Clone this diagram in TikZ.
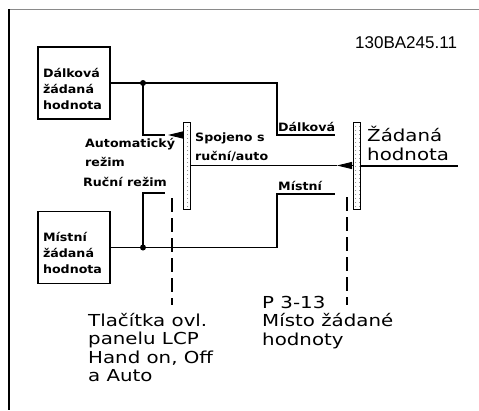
\documentclass[tikz,border=0pt]{standalone}
\usepackage{fontspec}
\setmainfont{DejaVu Sans}
\newfontfamily\cadfont[FakeStretch=1.1]{DejaVu Sans Bold}
\newfontfamily\notefont[FakeStretch=1.2]{DejaVu Sans}
\newfontfamily\numfont{Liberation Sans}
\usetikzlibrary{arrows.meta,positioning,patterns.meta,calc}
\definecolor{framegray}{HTML}{8A8A8A}
\newcommand{\boxstrut}{\rule{0pt}{21pt}}

\begin{document}
\begin{tikzpicture}[x=1pt, y=-1pt,
  refbox/.style={rectangle, draw, line width=1.2pt, minimum width=72pt, minimum height=72pt,
                 text width=62pt, inner xsep=5pt, align=left,
                 font=\cadfont\fontsize{11.5}{16}\selectfont},
  switchbar/.style={rectangle, draw, line width=1pt, minimum width=7pt, minimum height=87pt,
                    inner sep=0pt, pattern={Dots[distance=4pt, radius=0.45pt]}},
  wire/.style={line width=1.4pt},
  contact/.style={-{Triangle[length=15pt, width=7pt]}, line width=1pt},
  mech/.style={line width=1.2pt, dash pattern=on 14pt off 6pt},
  cad/.style={inner sep=0pt, align=left, font=\cadfont\fontsize{11.5}{18.5}\selectfont},
  note/.style={inner sep=0pt, align=left, font=\notefont\fontsize{16.5}{18.5}\selectfont},
]
  \useasboundingbox (0,0) rectangle (479,410);
  % sheet border
  \draw[framegray, line width=1.2pt] (9,9.5) -- (479,9.5);
  \draw[line width=1.5pt] (9,9) -- (9,410);

  \node[note, font=\numfont\fontsize{17}{20}\selectfont, anchor=base west] (drawno) at (355,48) {130BA245.11};

  % setpoint sources
  \node[refbox] (remote) at (74,83) {\boxstrut Dálková\\žádaná\\hodnota};
  \node[refbox] (local) at (74,247.5) {\boxstrut Místní\\žádaná\\hodnota};

  % switches
  \node[switchbar] (handauto) at (187,165.5) {};
  \node[switchbar] (refsite) at (357,166) {};

  \coordinate (jremote) at (143,83);
  \coordinate (jlocal) at (143,247.5);
  \coordinate (autoin) at (165,135);
  \coordinate (handin) at (165,193);
  \coordinate (remotein) at (335,135);
  \coordinate (localin) at (335,194);
  \coordinate (sitetip) at (337,165.5);
  \coordinate (refout) at (458,166);

  \draw[wire] (remote.east) -- (277,83) |- (remotein);
  \draw[wire] (jremote) |- (autoin);
  \draw[wire] (local.east) -- (277,247.5) |- (localin);
  \draw[wire] (jlocal) |- (handin);
  \fill (jremote) circle (3pt) (jlocal) circle (3pt);

  \draw[contact] (handauto.west |- autoin) -- ++(-15,0);
  \draw[wire] (handauto.east) -- (sitetip);
  \draw[contact] (refsite.west |- sitetip) -- (sitetip);
  \draw[wire] (refsite.east) -- (refout);

  % operating keys
  \draw[mech] (172,198) -- (172,305);
  \draw[mech] (347,197) -- (347,305);

  % multi-line texts sit on the baseline of their last line
  \node[cad, anchor=base west] (remotelbl) at (278,131) {Dálková};
  \node[cad, anchor=base west] (locallbl) at (278,190) {Místní};
  \node[cad, anchor=base west] (linked) at (195,160) {Spojeno s\\ruční/auto};
  \node[cad, anchor=base west] (automode) at (85,166) {Automatický\\režim};
  \node[cad, anchor=base west] (handmode) at (83,186) {Ruční režim};

  \node[note, anchor=base west] (setpoint) at (367,160) {Žádaná\\hodnota};
  \node[note, anchor=base west] (keys) at (88,381.5) {Tlačítka ovl.\\panelu LCP\\Hand on, Off\\a Auto};
  \node[note, anchor=base west] (param) at (262,345) {P 3-13\\Místo žádané\\hodnoty};
\end{tikzpicture}
\end{document}
